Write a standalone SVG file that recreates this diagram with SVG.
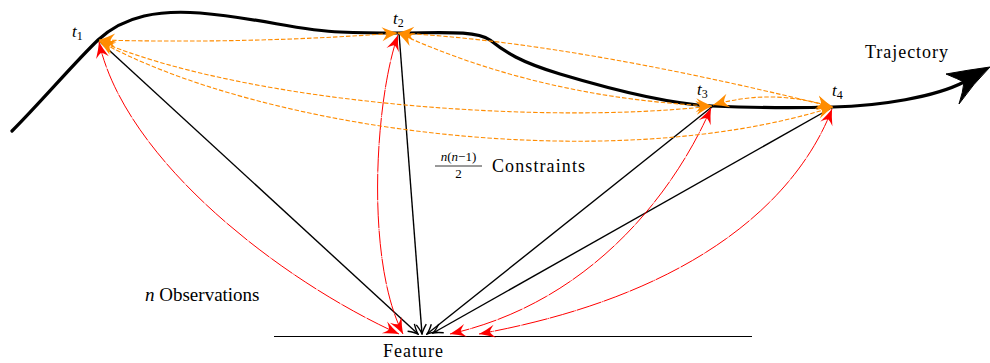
<svg xmlns="http://www.w3.org/2000/svg" width="990" height="363" viewBox="0 0 990 363">
<style>
text{font-family:"Liberation Serif","DejaVu Serif","Times New Roman",serif;fill:#000}
.it{font-style:italic}
.org{fill:none;stroke:#FF8C00;stroke-width:1.1;stroke-dasharray:4.5 2;marker-start:url(#ao);marker-end:url(#ao)}
.red{fill:none;stroke:#FF0000;stroke-width:1;stroke-dasharray:26 0.7 0.8 0.7;marker-start:url(#ar);marker-end:url(#ar)}
.blk{fill:none;stroke:#000;stroke-width:1.4;marker-end:url(#ab)}
</style>
<defs>
<marker id="ao" markerUnits="userSpaceOnUse" orient="auto-start-reverse" viewBox="-18 -9 19 18" markerWidth="19" markerHeight="18" refX="0" refY="0">
<path d="M0,0 Q-8,-2.8 -16,-7 Q-12,-2.2 -11.5,0 Q-12,2.2 -16,7 Q-8,2.8 0,0 Z" fill="#FF8C00"/>
</marker>
<marker id="ar" markerUnits="userSpaceOnUse" orient="auto-start-reverse" viewBox="-18 -9 19 18" markerWidth="19" markerHeight="18" refX="0" refY="0">
<path d="M0,0 Q-8,-2.5 -16,-6.5 Q-11.5,-2 -11,0 Q-11.5,2 -16,6.5 Q-8,2.5 0,0 Z" fill="#FF0000"/>
</marker>
<marker id="ab" markerUnits="userSpaceOnUse" orient="auto" viewBox="-11 -7 12 14" markerWidth="12" markerHeight="14" refX="0" refY="0">
<path d="M-9.5,-5 Q-3.5,-1 0,0 Q-3.5,1 -9.5,5" fill="none" stroke="#000" stroke-width="1.4"/>
</marker>
</defs>
<rect width="990" height="363" fill="#fff"/>

<g id="trajectory">
<path d="M12,131 C40,103 75,62 98,40 C125,15 160,10 200,13 C260,18 300,31 340,32 C365,33 385,33 398,33 C440,33 475,30 490,40 C505,52 520,62 560,74 C620,92 670,104 712,106 C760,108 800,108 833,107 C880,106 935,97 964,82" fill="none" stroke="#000" stroke-width="3.2" stroke-linecap="round"/>
<path d="M990,67 Q968,70 946,74 Q958,79 964,82 Q963,92 959,104 Q973,84 990,67 Z" fill="#000" stroke="#000" stroke-width="1"/>
<text x="865" y="58" font-size="18" textLength="83">Trajectory</text>
</g>

<g id="feature">
<line x1="274" y1="336.5" x2="752" y2="336.5" stroke="#000" stroke-width="1.2"/>
<text x="383" y="357" font-size="18" textLength="60">Feature</text>
</g>

<g id="connectors">
<path class="blk" d="M98,40 L418,334"/>
<path class="blk" d="M399,33 L422,334"/>
<path class="blk" d="M713,106 L427,334"/>
<path class="blk" d="M833,107 L433,333"/>

<path class="red" d="M99,42 C125,160 280,280 399,334"/>
<path class="red" d="M398,35 C375,100 365,260 403,334"/>
<path class="red" d="M711,108 C680,180 600,300 450,334"/>
<path class="red" d="M832,109 C805,180 720,290 479,334"/>

<path class="org" d="M99,40 Q250,44 398,33"/>
<path class="org" d="M99,41 C250,105 550,125 712,106"/>
<path class="org" d="M99,41 C260,130 610,178 833,107"/>
<path class="org" d="M398,33 Q540,98 712,106"/>
<path class="org" d="M398,33 Q570,42 833,107"/>
<path class="org" d="M713,105 Q772,88 832,107"/>
</g>

<g id="node-t1"><text x="72" y="37" font-size="17"><tspan class="it">t</tspan><tspan font-size="12" dy="2.5">1</tspan></text></g>
<g id="node-t2"><text x="393" y="24" font-size="17"><tspan class="it">t</tspan><tspan font-size="12" dy="2.5">2</tspan></text></g>
<g id="node-t3"><text x="697" y="95" font-size="17"><tspan class="it">t</tspan><tspan font-size="12" dy="2.5">3</tspan></text></g>
<g id="node-t4"><text x="832" y="96" font-size="17"><tspan class="it">t</tspan><tspan font-size="12" dy="2.5">4</tspan></text></g>

<g id="label-constraints">
<text x="458.5" y="161" font-size="13" text-anchor="middle"><tspan class="it">n</tspan>(<tspan class="it">n</tspan>−1)</text>
<line x1="435" y1="166" x2="482" y2="166" stroke="#000" stroke-width="0.8"/>
<text x="458.5" y="178" font-size="13" text-anchor="middle">2</text>
<text x="492" y="172" font-size="18" textLength="93">Constraints</text>
</g>

<g id="label-observations">
<text x="145" y="301" font-size="19"><tspan class="it">n</tspan> Observations</text>
</g>
</svg>
